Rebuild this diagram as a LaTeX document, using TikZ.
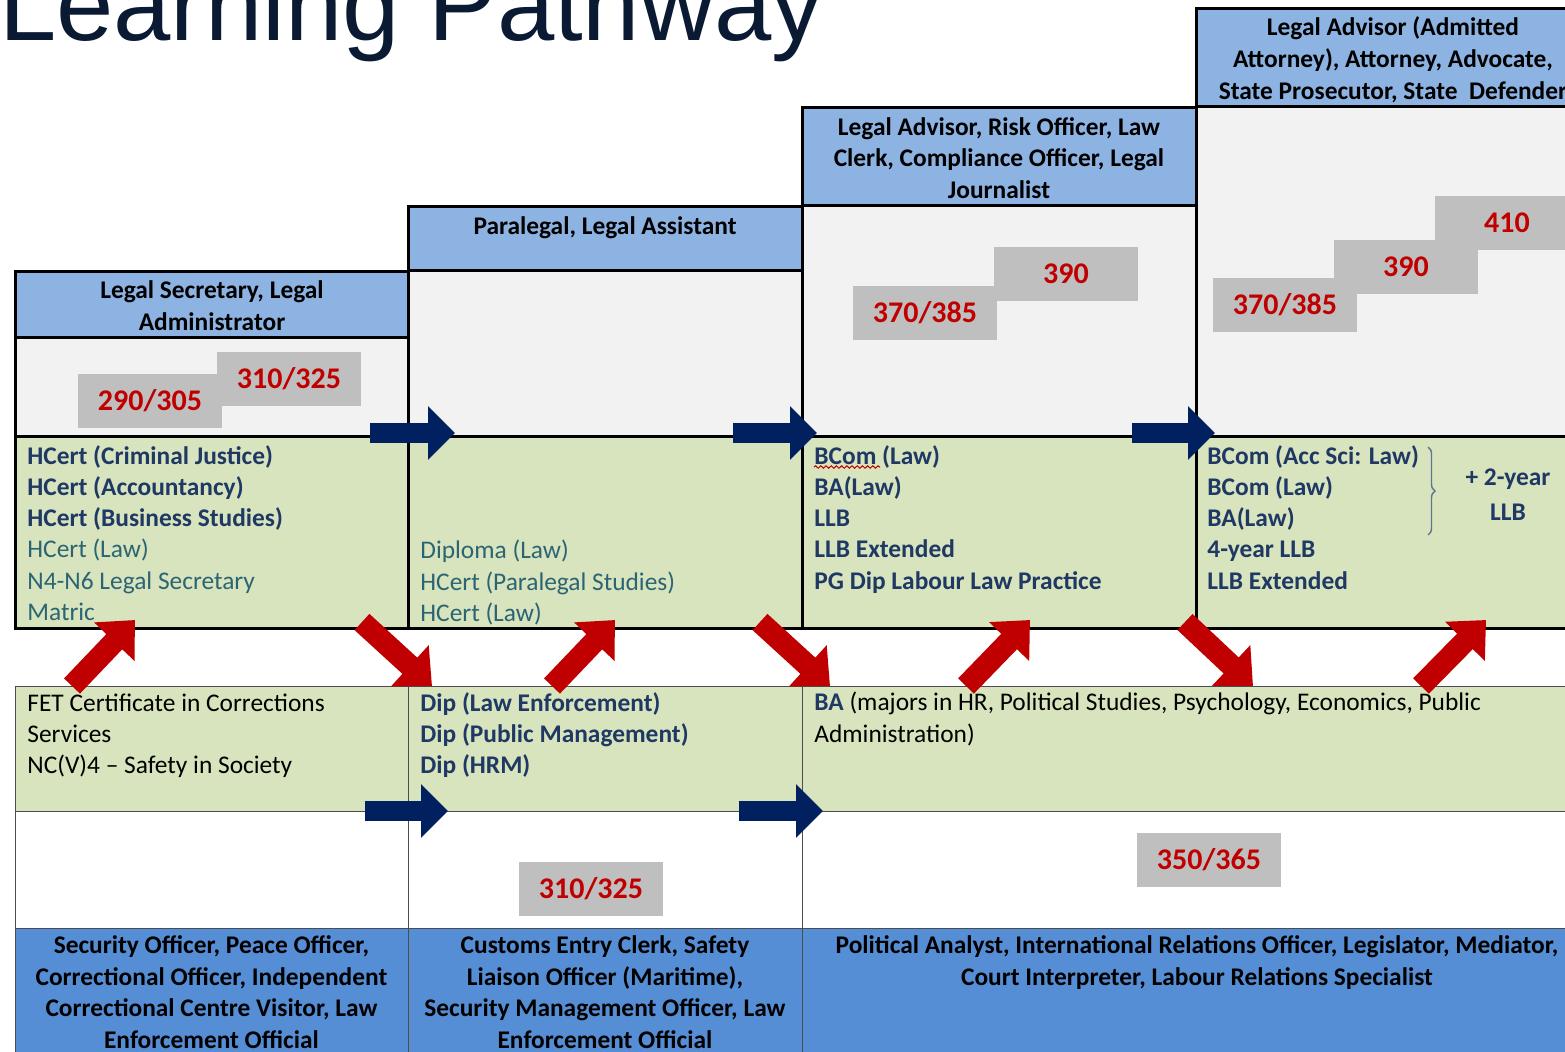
\documentclass[tikz,border=0pt]{standalone}
\usepackage{fontspec}
\setmainfont{Carlito}
\newfontfamily\titlefont{Liberation Sans}
\usetikzlibrary{arrows.meta,positioning,decorations.pathreplacing,decorations.pathmorphing}
\definecolor{hdrblue}{HTML}{8DB3E2}
\definecolor{jobblue}{HTML}{558ED5}
\definecolor{cellgray}{HTML}{F2F2F2}
\definecolor{cellgreen}{HTML}{D7E4BD}
\definecolor{scoregray}{HTML}{BFBFBF}
\definecolor{scorered}{HTML}{C00000}
\definecolor{navy}{HTML}{002060}
\definecolor{qualnavy}{HTML}{1F3864}
\definecolor{qualteal}{HTML}{2B6473}
\definecolor{titleink}{HTML}{0B1A33}
\newcommand{\qb}[1]{\textcolor{qualnavy}{\textbf{#1}}}
\newcommand{\qt}[1]{\textcolor{qualteal}{#1}}

\begin{document}
\begin{tikzpicture}[x=0.5pt, y=-0.5pt,
    cell/.style={anchor=north west, inner sep=0pt, outer sep=0pt},
    topcell/.style={cell, draw=black, line width=1.5pt, minimum width=197pt},
    lowcell/.style={cell, draw=black!70, line width=0.5pt},
    hdrtext/.style={font=\fontsize{12.7}{15.9}\selectfont\bfseries, align=center, inner sep=0pt},
    qual/.style={anchor=north west, inner sep=0pt, align=left, font=\fontsize{12.7}{15.6}\selectfont},
    jobtext/.style={anchor=north, inner sep=0pt, align=center, font=\fontsize{12.7}{15.8}\selectfont\bfseries},
    score/.style={fill=scoregray, text=scorered, font=\fontsize{15}{18}\selectfont\bfseries,
                  minimum width=72pt, minimum height=27pt, inner sep=0pt},
    navyarr/.style={draw=navy, line width=10pt, -{Triangle[length=13.5pt, width=26pt]}},
    redarr/.style={draw=scorered, line width=11pt, -{Triangle[length=15pt, width=27pt]}}
  ]
  \useasboundingbox (0,0) rectangle (1565,1051);

  % title
  \node[anchor=base east, inner sep=0pt, text=titleink,
        font=\titlefont\fontsize{51.5}{60}\selectfont] (title) at (824,40) {Learning Pathway};

  % upper staircase
  \node[topcell, fill=hdrblue, minimum height=33pt] (h1) at (15,271) {};
  \node[topcell, fill=cellgray, minimum height=49.5pt] (s1) at (15,337) {};
  \node[topcell, fill=cellgreen, minimum height=96pt] (g1) at (15,436) {};
  \node[topcell, fill=hdrblue, minimum height=32pt] (h2) at (408,206) {};
  \node[topcell, fill=cellgray, minimum height=83pt] (s2) at (408,270) {};
  \node[topcell, fill=cellgreen, minimum height=96pt] (g2) at (408,436) {};
  \node[topcell, fill=hdrblue, minimum height=49pt] (h3) at (802,107) {};
  \node[topcell, fill=cellgray, minimum height=115.5pt] (s3) at (802,205) {};
  \node[topcell, fill=cellgreen, minimum height=96pt] (g3) at (802,436) {};
  \node[topcell, fill=hdrblue, minimum height=49pt] (h4) at (1196,8) {};
  \node[topcell, fill=cellgray, minimum height=165pt] (s4) at (1196,106) {};
  \node[topcell, fill=cellgreen, minimum height=96pt] (g4) at (1196,436) {};

  % lower rows
  \node[lowcell, fill=cellgreen, minimum width=196.5pt, minimum height=62.5pt] (l1) at (15,686) {};
  \node[lowcell, fill=cellgreen, minimum width=197pt, minimum height=62.5pt] (l2) at (408,686) {};
  \node[lowcell, fill=cellgreen, minimum width=395pt, minimum height=62.5pt] (l3) at (802,686) {};
  \node[lowcell, fill=white, minimum width=196.5pt, minimum height=58.5pt] (w1) at (15,811) {};
  \node[lowcell, fill=white, minimum width=197pt, minimum height=58.5pt] (w2) at (408,811) {};
  \node[lowcell, fill=white, minimum width=395pt, minimum height=58.5pt] (w3) at (802,811) {};
  \node[lowcell, fill=jobblue, minimum width=196.5pt, minimum height=70pt] (b1) at (15,928) {};
  \node[lowcell, fill=jobblue, minimum width=197pt, minimum height=70pt] (b2) at (408,928) {};
  \node[lowcell, fill=jobblue, minimum width=395pt, minimum height=70pt] (b3) at (802,928) {};

  % job titles, top
  \node[hdrtext] (h1t) at ([yshift=-1pt]h1.center) {Legal Secretary, Legal\\Administrator};
  \node[hdrtext, anchor=north] (h2t) at ([yshift=-5pt]h2.north) {Paralegal, Legal Assistant};
  \node[hdrtext] (h3t) at ([yshift=-1pt]h3.center) {Legal Advisor, Risk Officer, Law\\Clerk, Compliance Officer, Legal\\Journalist};
  \node[hdrtext] (h4t) at ([yshift=-1.5pt]h4.center) {Legal Advisor (Admitted\\Attorney), Attorney, Advocate,\\State Prosecutor, State\ \ Defender};

  % points
  \node[score] (p1a) at (150,400.5) {290/305};
  \node[score] (p1b) at (289,378.5) {310/325};
  \node[score] (p3a) at (925,312.5) {370/385};
  \node[score] (p3b) at (1066,274) {390};
  \node[score] (p4a) at (1285,304.5) {370/385};
  \node[score] (p4b) at (1406,267) {390};
  \node[score] (p4c) at (1507,223) {410};

  % qualifications
  \node[qual] (q1) at ([xshift=6pt, yshift=-4.5pt]g1.north west)
    {\qb{HCert (Criminal Justice)}\\\qb{HCert (Accountancy)}\\\qb{HCert (Business Studies)}\\
     \qt{HCert (Law)}\\\qt{N4-N6 Legal Secretary}\\\qt{Matric}};
  \node[qual] (q2) at ([xshift=6pt, yshift=-52pt]g2.north west)
    {\qt{Diploma (Law)}\\\qt{HCert (Paralegal Studies)}\\\qt{HCert (Law)}};
  \node[qual] (q3) at ([xshift=6pt, yshift=-4.5pt]g3.north west)
    {\qb{BCom (Law)}\\\qb{BA(Law)}\\\qb{LLB}\\\qb{LLB Extended}\\\qb{PG Dip Labour Law Practice}};
  \node[qual] (q4) at ([xshift=5.5pt, yshift=-4.5pt]g4.north west)
    {\qb{BCom (Acc Sci: Law)}\\\qb{BCom (Law)}\\\qb{BA(Law)}\\\qb{4-year LLB}\\\qb{LLB Extended}};
  \node[align=center, inner sep=0pt, font=\fontsize{12.7}{17.5}\selectfont\bfseries, text=qualnavy]
    (llb) at (1508,495) {+ 2-year\\LLB};
  \draw[qualnavy!70, line width=0.7pt, decorate, decoration={brace, amplitude=3.5pt}]
    (1428,447) -- (1428,535);
  \draw[scorered, line width=0.5pt, decorate, decoration={snake, amplitude=0.6pt, segment length=2.6pt}]
    (814,467) -- (880,467);

  % lower qualifications
  \node[qual] (r1) at ([xshift=6pt, yshift=-3.75pt]l1.north west)
    {FET Certificate in Corrections\\Services\\NC(V)4 -- Safety in Society};
  \node[qual] (r2) at ([xshift=6pt, yshift=-3pt]l2.north west)
    {\qb{Dip (Law Enforcement)}\\\qb{Dip (Public Management)}\\\qb{Dip (HRM)}};
  \node[qual] (r3) at ([xshift=6pt, yshift=-3pt]l3.north west)
    {\qb{BA} (majors in HR, Political Studies, Psychology, Economics, Public\\Administration)};
  \node[score] (p5) at (591,889) {310/325};
  \node[score] (p6) at (1209,859.5) {350/365};

  % job titles, bottom
  \node[jobtext] (b1t) at ([yshift=-3.75pt]b1.north)
    {Security Officer, Peace Officer,\\Correctional Officer, Independent\\Correctional Centre Visitor, Law\\Enforcement Official};
  \node[jobtext] (b2t) at ([yshift=-3.75pt]b2.north)
    {Customs Entry Clerk, Safety\\Liaison Officer (Maritime),\\Security Management Officer, Law\\Enforcement Official};
  \node[jobtext] (b3t) at ([yshift=-3.75pt]b3.north)
    {Political Analyst, International Relations Officer, Legislator, Mediator,\\Court Interpreter, Labour Relations Specialist};

  % arrows
  \coordinate (n1a) at (370,433);  \coordinate (n1b) at (455,433);
  \coordinate (n2a) at (733,433);  \coordinate (n2b) at (817,433);
  \coordinate (n3a) at (1132,433); \coordinate (n3b) at (1215,433);
  \coordinate (n4a) at (365,811);  \coordinate (n4b) at (448,811);
  \coordinate (n5a) at (739,811);  \coordinate (n5b) at (823,811);
  \draw[navyarr] (n1a) -- (n1b);
  \draw[navyarr] (n2a) -- (n2b);
  \draw[navyarr] (n3a) -- (n3b);
  \draw[navyarr] (n4a) -- (n4b);
  \draw[navyarr] (n5a) -- (n5b);

  \coordinate (u1a) at (72,686);   \coordinate (u1b) at (135,620);
  \coordinate (d1a) at (362,622);  \coordinate (d1b) at (432,686);
  \coordinate (u2a) at (552,686);  \coordinate (u2b) at (615,620);
  \coordinate (d2a) at (760,622);  \coordinate (d2b) at (830,686);
  \coordinate (u3a) at (966,686);  \coordinate (u3b) at (1030,620);
  \coordinate (d3a) at (1185,622); \coordinate (d3b) at (1253,686);
  \coordinate (u4a) at (1421,686); \coordinate (u4b) at (1486,620);
  \draw[redarr] (u1a) -- (u1b);
  \draw[redarr] (d1a) -- (d1b);
  \draw[redarr] (u2a) -- (u2b);
  \draw[redarr] (d2a) -- (d2b);
  \draw[redarr] (u3a) -- (u3b);
  \draw[redarr] (d3a) -- (d3b);
  \draw[redarr] (u4a) -- (u4b);
\end{tikzpicture}
\end{document}
